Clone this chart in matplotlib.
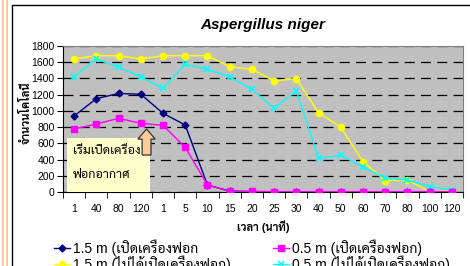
import matplotlib
matplotlib.use("Agg")
import matplotlib.pyplot as plt
from matplotlib.patches import Rectangle, FancyArrow
from matplotlib.lines import Line2D

plt.rcParams['font.family'] = ['Liberation Sans', 'Sarabun', 'DejaVu Sans']

# time points (minutes), first 4 before the purifier is switched on
times = ["1", "40", "80", "120", "1", "5", "10", "15", "20", "25", "30",
         "40", "50", "60", "70", "80", "100", "120"]

on_15 = [937, 1151, 1215, 1205, 970, 826, 86, 12, 5, 3, 2, 2, 2, 2, 2, 2, 2, 2]
on_05 = [777, 838, 908, 847, 822, 551, 86, 8, 8, 5, 5, 5, 5, 5, 5, 5, 5, 5]
off_15 = [1640, 1680, 1680, 1640, 1680, 1680, 1680, 1545, 1513, 1369, 1397,
          978, 798, 374, 140, 148, 4, 12]
off_05 = [1421, 1640, 1537, 1421, 1278, 1574, 1512, 1421, 1265, 1032, 1248,
          415, 452, 312, 169, 148, 66, 25]

labels = ["1.5 m (เปิดเครื่องฟอก", "0.5 m (เปิดเครื่องฟอก)",
          "1.5 m (ไม่ได้เปิดเครื่องฟอก)", "0.5 m (ไม่ได้เปิดเครื่องฟอก)"]

fig = plt.figure(figsize=(4.7, 2.66), dpi=100)
fig.patch.set_facecolor("white")

# outer chart frame and the orange page border on the left
fig.patches.append(Rectangle((12/470, -0.1), 1.2, 1 - 5/266 + 0.1, transform=fig.transFigure,
                             fill=False, ec="black", lw=1.0))
for xp in (3, 7):
    fig.lines.append(Line2D([xp/470, xp/470], [0, 1], transform=fig.transFigure,
                            color="#F7C08A", lw=1.2))

ax = fig.add_axes([63/470, 1 - 192/266, 400/470, 146/266])
ax.set_facecolor("#C0C0C0")
x = range(len(times))

l1, = ax.plot(x, on_15, color="#000080", marker="D", ms=3.5, lw=1, zorder=5)
l2, = ax.plot(x, on_05, color="#FF00FF", marker="s", ms=4.5, lw=1, zorder=5)
l3, = ax.plot(x, off_15, color="#FFFF00", marker="o", ms=4.5, lw=1, zorder=4)
l4, = ax.plot(x, off_05, color="#00FFFF", marker="x", ms=5, mew=1.2, lw=1, zorder=4)

ax.set_xlim(-0.5, len(times) - 0.5)
ax.set_ylim(0, 1800)
ax.set_yticks(range(0, 1801, 200))
ax.set_xticks(list(x))
ax.set_xticklabels(times)
ax.set_xticks([i + 0.5 for i in range(-1, len(times))], minor=True)
ax.tick_params(axis="x", which="major", length=0, pad=9, labelsize=7.5)
ax.tick_params(axis="x", which="minor", length=4, direction="out")
ax.tick_params(axis="y", length=4, direction="out", pad=2, labelsize=7.5)
ax.yaxis.grid(True, color="black", ls=(0, (8, 5)), lw=0.9)
ax.set_axisbelow(True)
for s in ("top", "right"):
    ax.spines[s].set_color("#808080")
    ax.spines[s].set_linewidth(0.8)

ax.set_title("Aspergillus niger", fontsize=11, fontweight="bold", style="italic", pad=12)
ax.set_xlabel("เวลา (นาที)", fontsize=8, fontweight="bold", labelpad=4)
ax.set_ylabel("จำนวนโคโลนี", fontsize=8, fontweight="bold")
ax.yaxis.set_label_coords(-0.078, 0.54)

# note box and arrow marking when the purifier was switched on
ax.add_patch(Rectangle((-0.32, 0), 3.74, 666, fc="#FFFFCC", ec="none", zorder=3))
ax.text(-0.05, 500, "เริ่มเปิดเครื่อง", fontsize=9, va="center", zorder=6)
ax.text(-0.05, 210, "ฟอกอากาศ", fontsize=9, va="center", zorder=6)
ax.add_patch(FancyArrow(3.26, 456, 0, 321, width=0.4, head_width=0.78, head_length=125,
                        length_includes_head=True, fc="#FFCC99", ec="#333333", lw=0.9,
                        zorder=6))

legend_kw = dict(frameon=False, loc="upper left", fontsize=10, handlelength=1.15,
                 handletextpad=0.2, labelspacing=-0.05, borderpad=0, borderaxespad=0)
fig.legend([l1, l3], [labels[0], labels[2]], bbox_to_anchor=(54/470, 1 - 239/266), **legend_kw)
fig.legend([l2, l4], [labels[1], labels[3]], bbox_to_anchor=(273/470, 1 - 239/266), **legend_kw)

fig.savefig("out.png", dpi=100)
